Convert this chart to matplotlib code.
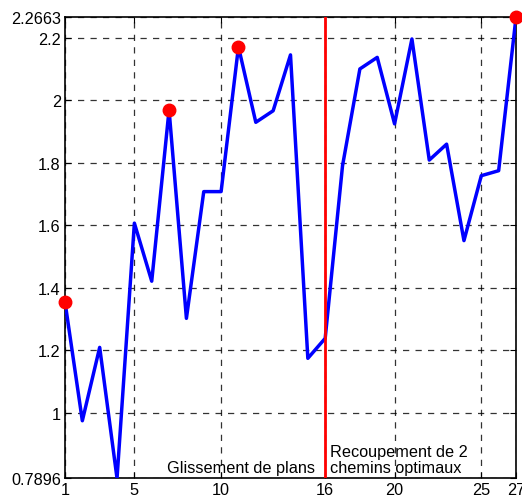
import numpy as np
import matplotlib
matplotlib.use('Agg')
import matplotlib.pyplot as plt

plt.rcParams['font.family'] = ['Liberation Sans', 'DejaVu Sans']

# iteration index and value
iters = np.arange(1, 28)
values = [1.355, 0.974, 1.209, 0.7896, 1.607, 1.421, 1.970, 1.302, 1.708, 1.708,
          2.172, 1.930, 1.967, 2.146, 1.174, 1.238, 1.791, 2.101, 2.138, 1.925,
          2.197, 1.809, 1.860, 1.551, 1.759, 1.775, 2.2663]
best_iters = [1, 7, 11, 27]
split_iter = 16

xticks = [1, 5, 10, 16, 20, 25, 27]
yticks = [0.7896, 1, 1.2, 1.4, 1.6, 1.8, 2, 2.2, 2.2663]
ytick_labels = ['0.7896', '1', '1.2', '1.4', '1.6', '1.8', '2', '2.2', '2.2663']

fig = plt.figure(figsize=(5.22, 5.02), dpi=100)
ax = fig.add_axes([0.1245, 0.0452, 0.864, 0.9183])

ax.plot(iters, values, color='blue', lw=2.5, zorder=3)
best_vals = [values[i - 1] for i in best_iters]
ax.plot(best_iters, best_vals, 'o', color='red', ms=9, zorder=4, clip_on=False)
ax.axvline(split_iter, color='red', lw=2, zorder=3)

ax.set_xlim(1, 27)
ax.set_ylim(0.7896, 2.2663)
ax.set_xticks(xticks)
ax.set_yticks(yticks)
ax.set_yticklabels(ytick_labels)
ax.grid(True, color='black', ls=(0, (5, 5)), lw=0.9, alpha=0.8)
ax.tick_params(direction='in', top=True, right=True, labelsize=11.7, length=4, pad=3)
for s in ax.spines.values():
    s.set_linewidth(1.2)

ax.text(15.4, 0.80, 'Glissement de plans', ha='right', va='bottom', fontsize=11.7)
ax.text(16.3, 0.80, 'Recoupement de 2\nchemins optimaux', ha='left', va='bottom',
        fontsize=11.7, linespacing=1.1)

fig.savefig('out.png', dpi=100)
